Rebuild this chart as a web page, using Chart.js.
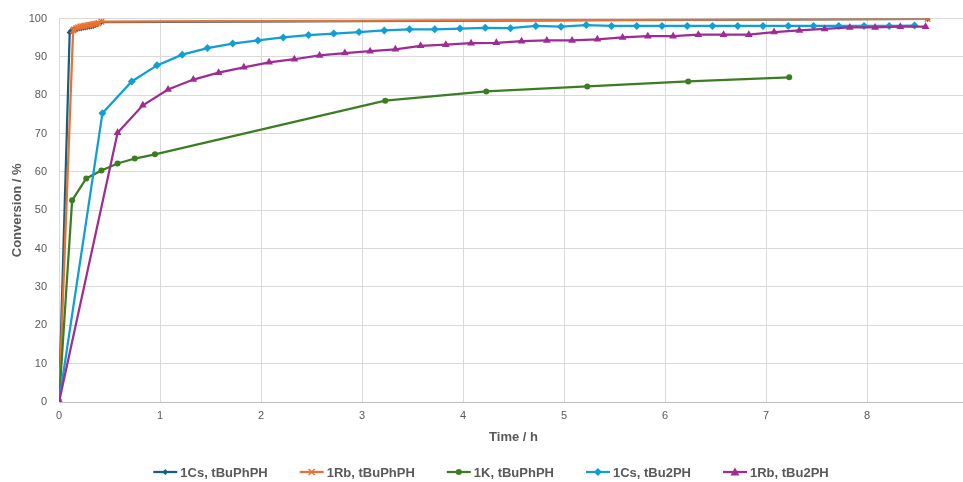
<!DOCTYPE html>
<html>
<head>
<meta charset="utf-8">
<script src="https://cdn.jsdelivr.net/npm/chart.js@4.4.1/dist/chart.umd.min.js"></script>
<style>
    html, body { margin: 0; padding: 0; background: #ffffff; overflow: hidden; }
    #wrap { position: relative; width: 975px; height: 482px; }
</style>
</head>
<body>
<div id="wrap"><canvas id="conversion-chart"></canvas></div>
<script>
// Conversion vs. time for the five catalyst / phosphine runs

const seriesNames = ['1Cs, tBuPhPH', '1Rb, tBuPhPH', '1K, tBuPhPH', '1Cs, tBu2PH', '1Rb, tBu2PH'];

const timeCsPh = [0, 0.106, 0.12, 0.14, 0.16, 0.18, 0.2, 0.22, 0.24, 0.26, 0.28, 0.3, 0.32, 0.34, 0.36, 0.38, 0.42, 8.6];
const convCsPh = [0, 96.4, 96.8, 97.0, 97.2, 97.3, 97.4, 97.5, 97.6, 97.7, 97.8, 97.9, 98.0, 98.1, 98.3, 98.5, 99.1, 99.9];

const timeRbPh = [0, 0.14, 0.15, 0.17, 0.19, 0.21, 0.23, 0.25, 0.27, 0.29, 0.31, 0.33, 0.35, 0.37, 0.39, 0.42, 8.6];
const convRbPh = [0, 96.9, 97.2, 97.5, 97.7, 97.9, 98.0, 98.1, 98.2, 98.3, 98.4, 98.5, 98.6, 98.7, 98.8, 99.2, 99.9];

const timeKPh = [0, 0.13, 0.27, 0.42, 0.58, 0.75, 0.95, 3.23, 4.23, 5.23, 6.23, 7.23];
const convKPh = [0, 52.6, 58.3, 60.4, 62.2, 63.5, 64.6, 78.6, 81.0, 82.3, 83.6, 84.7];

const timeCsBu = [0, 0.43, 0.72, 0.97, 1.22, 1.47, 1.72, 1.97, 2.22, 2.47, 2.72, 2.97, 3.22, 3.47, 3.72, 3.97,
    4.22, 4.47, 4.72, 4.97, 5.22, 5.47, 5.72, 5.97, 6.22, 6.47, 6.72, 6.97, 7.22, 7.47, 7.72, 7.97, 8.22, 8.47];
const convCsBu = [0, 75.3, 83.6, 87.8, 90.6, 92.3, 93.5, 94.3, 95.1, 95.7, 96.1, 96.5, 96.9, 97.2, 97.2, 97.4,
    97.6, 97.5, 98.1, 97.9, 98.3, 98.1, 98.1, 98.1, 98.1, 98.1, 98.1, 98.1, 98.1, 98.1, 98.1, 98.1, 98.1, 98.2];

const timeRbBu = [0, 0.58, 0.83, 1.08, 1.33, 1.58, 1.83, 2.08, 2.33, 2.58, 2.83, 3.08, 3.33, 3.58, 3.83, 4.08, 4.33,
    4.58, 4.83, 5.08, 5.33, 5.58, 5.83, 6.08, 6.33, 6.58, 6.83, 7.08, 7.33, 7.58, 7.83, 8.08, 8.33, 8.58];
const convRbBu = [0, 70.2, 77.4, 81.5, 84.1, 85.9, 87.3, 88.6, 89.4, 90.4, 91.0, 91.5, 92.0, 92.9, 93.2, 93.6, 93.7,
    94.1, 94.3, 94.3, 94.6, 95.1, 95.4, 95.4, 95.8, 95.8, 95.8, 96.5, 96.9, 97.3, 97.7, 97.7, 97.9, 97.9];

const yTicks = [0, 10, 20, 30, 40, 50, 60, 70, 80, 90, 100];
const xTicks = [0, 1, 2, 3, 4, 5, 6, 7, 8];

const colors = ['#156082', '#e97132', '#3b7d23', '#0f9ed5', '#a02b93'];
const markers = ['rectRot', 'crossRot', 'circle', 'rectRot', 'triangle'];
const markerSizes = [3, 4, 3, 4, 4.5];

const textColor = '#595959';
const fontFamily = '"Liberation Sans", Arial, sans-serif';

function toPoints(xs, ys) {
    return xs.map((x, i) => ({ x: x, y: ys[i] }));
}

function drawMarker(g, style, cx, cy, r, color) {
    g.fillStyle = color;
    g.strokeStyle = color;
    g.beginPath();
    if (style === 'rectRot') {
        g.moveTo(cx, cy - r); g.lineTo(cx + r, cy); g.lineTo(cx, cy + r); g.lineTo(cx - r, cy); g.closePath(); g.fill();
    } else if (style === 'circle') {
        g.arc(cx, cy, r, 0, Math.PI * 2); g.fill();
    } else if (style === 'triangle') {
        g.moveTo(cx, cy - r); g.lineTo(cx + r, cy + r * 0.8); g.lineTo(cx - r, cy + r * 0.8); g.closePath(); g.fill();
    } else if (style === 'crossRot') {
        g.lineWidth = 1.5;
        const d = r * 0.75;
        g.moveTo(cx - d, cy - d); g.lineTo(cx + d, cy + d);
        g.moveTo(cx + d, cy - d); g.lineTo(cx - d, cy + d);
        g.stroke();
    }
}

// Excel-like legend: short line with marker, then the name, centred under the plot
const bottomLegend = {
    id: 'bottomLegend',
    afterDraw(chart) {
        const g = chart.ctx;
        const lineLen = 24, textGap = 3, itemGap = 32, y = 472;
        g.save();
        g.font = 'bold 13px ' + fontFamily;
        const widths = seriesNames.map(n => g.measureText(n).width);
        const total = widths.reduce((a, w) => a + lineLen + textGap + w, 0) + itemGap * (seriesNames.length - 1);
        let x = 491 - total / 2;
        seriesNames.forEach((name, i) => {
            g.strokeStyle = colors[i];
            g.lineWidth = 2.25;
            g.beginPath();
            g.moveTo(x, y);
            g.lineTo(x + lineLen, y);
            g.stroke();
            drawMarker(g, markers[i], x + lineLen / 2, y, markerSizes[i], colors[i]);
            g.fillStyle = textColor;
            g.textBaseline = 'middle';
            g.textAlign = 'left';
            g.fillText(name, x + lineLen + textGap, y + 1);
            x += lineLen + textGap + widths[i] + itemGap;
        });
        g.restore();
    }
};

const allTimes = [timeCsPh, timeRbPh, timeKPh, timeCsBu, timeRbBu];
const allConv = [convCsPh, convRbPh, convKPh, convCsBu, convRbBu];

const datasets = seriesNames.map((name, i) => ({
    label: name,
    data: toPoints(allTimes[i], allConv[i]),
    borderColor: colors[i],
    backgroundColor: colors[i],
    borderWidth: 2.25,
    pointStyle: markers[i],
    pointRadius: markerSizes[i],
    pointBorderWidth: markers[i] === 'crossRot' ? 1.5 : 0,
    pointBorderColor: colors[i],
    pointBackgroundColor: colors[i],
    tension: 0,
    order: seriesNames.length - i
}));

new Chart(document.getElementById('conversion-chart'), {
    type: 'line',
    data: { datasets: datasets },
    plugins: [bottomLegend],
    options: {
        responsive: true,
        maintainAspectRatio: false,
        animation: false,
        layout: { padding: { left: 0, top: 13, right: 7, bottom: 37 } },
        plugins: {
            tooltip: { enabled: false },
            legend: { display: false }
        },
        scales: {
            x: {
                type: 'linear',
                min: 0,
                max: 9,
                afterBuildTicks: (axis) => { axis.ticks = [...xTicks, 9].map(v => ({ value: v })); },
                afterFit: (axis) => { axis.height = 43; },
                ticks: {
                    color: textColor,
                    font: { family: fontFamily, size: 11 },
                    padding: 7,
                    maxRotation: 0,
                    callback: (v) => (xTicks.includes(v) ? String(v) : '')
                },
                grid: { color: '#d9d9d9', drawTicks: false },
                border: { color: '#bfbfbf' },
                title: {
                    display: true,
                    text: 'Time / h',
                    color: textColor,
                    font: { family: fontFamily, size: 13, weight: 'bold' },
                    padding: { top: 0, bottom: 0 }
                }
            },
            y: {
                min: 0,
                max: 100,
                afterBuildTicks: (axis) => { axis.ticks = yTicks.map(v => ({ value: v })); },
                afterFit: (axis) => { axis.width = 59; },
                ticks: {
                    color: textColor,
                    font: { family: fontFamily, size: 11 },
                    padding: 12
                },
                grid: { color: '#d9d9d9', drawTicks: false },
                border: { color: '#d9d9d9' },
                title: {
                    display: true,
                    text: 'Conversion / %',
                    color: textColor,
                    font: { family: fontFamily, size: 13, weight: 'bold' },
                    padding: { top: 10, bottom: 0 }
                }
            }
        }
    }
});
</script>
</body>
</html>
